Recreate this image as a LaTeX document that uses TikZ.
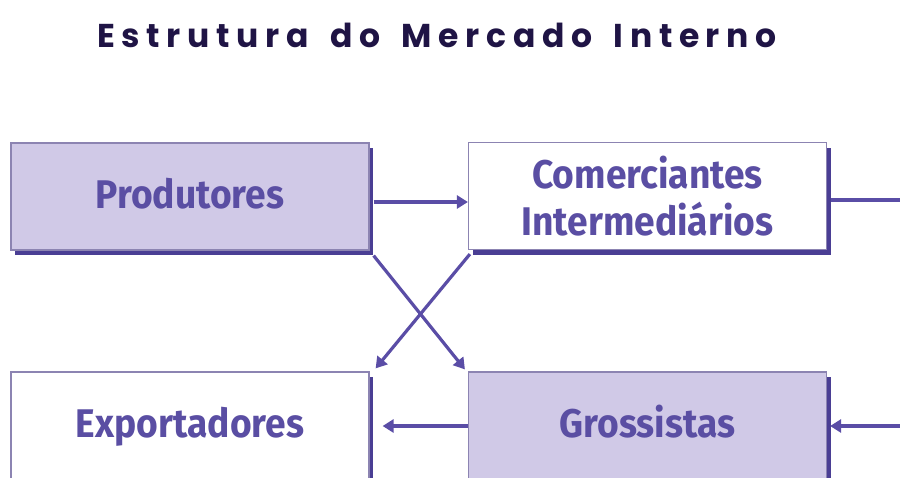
\documentclass[tikz,border=0pt]{standalone}
\usepackage{fontspec}
\usetikzlibrary{arrows.meta,shadows}
\newfontfamily\titlefont[LetterSpace=20,WordSpace=1.6]{Poppins}
\newfontfamily\boxfont[FakeStretch=0.93]{Fira Sans}
\definecolor{boxfill}{HTML}{D0C9E7}
\definecolor{boxtext}{HTML}{5A4EA3}
\definecolor{linecol}{HTML}{5A4DA6}
\definecolor{shadowcol}{HTML}{4A3E94}
\definecolor{bordercol}{HTML}{8C84B2}
\definecolor{titlecol}{HTML}{1F1445}
\tikzset{
  stagebox/.style={draw=bordercol, line width=1.2pt, minimum width=358pt, minimum height=107pt,
    inner sep=0pt, align=center, text=boxtext, font=\boxfont\bfseries\fontsize{40}{47}\selectfont,
    drop shadow={shadow xshift=4pt, shadow yshift=-5pt, fill=shadowcol, opacity=1}},
  oneline/.style={text height=24pt, text depth=0pt},
  filledbox/.style={stagebox, fill=boxfill},
  plainbox/.style={stagebox, fill=white},
  flow/.style={draw=linecol, line width=3.2pt, -{Triangle[length=11pt,width=13pt]}},
  flowplain/.style={draw=linecol, line width=3.2pt}
}
\begin{document}
\begin{tikzpicture}[x=1pt,y=-1pt]
\useasboundingbox (0,0) rectangle (900,477);
\node[font=\titlefont\bfseries\fontsize{33}{36}\selectfont, text=titlecol] (title) at (437,35) {Estrutura do Mercado Interno};
\node[filledbox, oneline] (prod) at (190,196.5) {Produtores};
\node[plainbox] (com) at (647.5,196) {Comerciantes\\Intermediários};
\node[plainbox, oneline] (exp) at (190,425.5) {Exportadores};
\node[filledbox, oneline] (gro) at (647.5,425.5) {Grossistas};
\coordinate (rtop) at (912,200);
\coordinate (rbot) at (912,426);
\draw[flow] ([xshift=4pt]prod.east |- 0,202) -- (com.west |- 0,202);
\draw[flowplain] ([xshift=4pt]com.east |- 0,200) -- (rtop) -- (rbot);
\draw[flow] (rbot) -- ([xshift=3pt]gro.east |- 0,426);
\draw[flow] (gro.west |- 0,426) -- ([xshift=13pt]exp.east |- 0,426);
\draw[flow] ([xshift=4pt,yshift=-5pt]prod.south east) -- ([xshift=-3pt,yshift=2pt]gro.north west);
\draw[flow] ([xshift=2pt,yshift=-4pt]com.south west) -- ([xshift=6pt,yshift=3pt]exp.north east);
\end{tikzpicture}
\end{document}
